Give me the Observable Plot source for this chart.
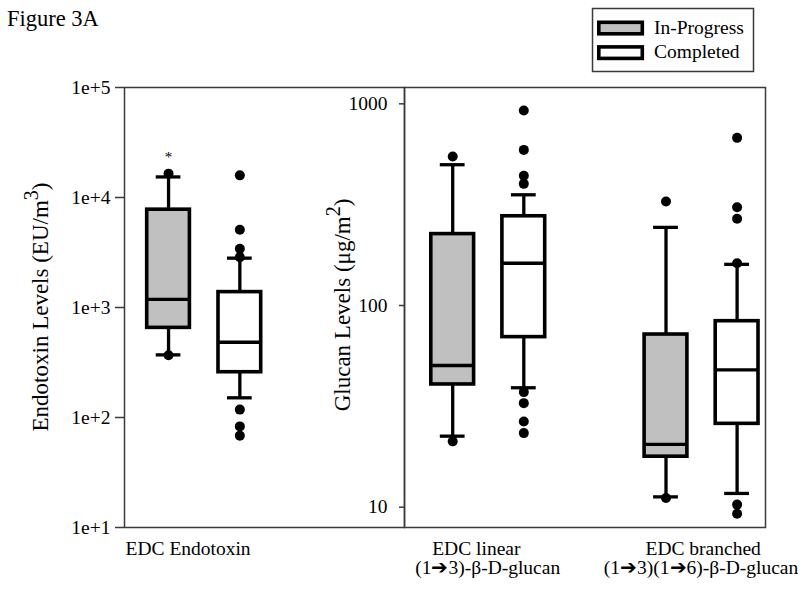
<!DOCTYPE html>
<html>
<head>
<meta charset="utf-8">
<script src="https://cdn.jsdelivr.net/npm/d3@7"></script>
<script src="https://cdn.jsdelivr.net/npm/@observablehq/plot@0.6"></script>
<style>
  body { margin: 0; background: #fff; }
  #wrap { position: relative; width: 800px; height: 590px; overflow: hidden; background: #fff;
          font-family: "Liberation Serif", "Times New Roman", serif; color: #000; }
  #wrap > svg { position: absolute; left: 0; top: 0; }
</style>
</head>
<body>
<div id="wrap"></div>
<script>
// ---------- data ----------
const status = ["In-Progress", "Completed"];
const statusFill = ["#c0c0c0", "#ffffff"];

// EDC Endotoxin (EU/m3)
const endoLow = [371, 151];
const endoQ1 = [653, 258];
const endoMedian = [1183, 483];
const endoQ3 = [7750, 1380];
const endoHigh = [15380, 2810];
const endoOutInProgress = [16480, 368];
const endoOutCompleted = [15900, 5090, 3420, 2870, 118, 83, 68.4];
const endoSignificant = ["In-Progress"];

// EDC linear (1->3)-beta-D-glucan (ug/m2)
const linLow = [22.5, 39.1];
const linQ1 = [40.6, 69.7];
const linMedian = [50.4, 162];
const linQ3 = [226, 277];
const linHigh = [499, 354];
const linOutInProgress = [548, 21.2];
const linOutCompleted = [927, 591, 440, 401, 37.2, 32.8, 26.6, 23.3];

// EDC branched (1->3)(1->6)-beta-D-glucan (ug/m2)
const brLow = [11.25, 11.7];
const brQ1 = [17.8, 25.9];
const brMedian = [20.5, 48.0];
const brQ3 = [71.8, 83.6];
const brHigh = [244, 160];
const brOutInProgress = [328, 11.1];
const brOutCompleted = [678, 307, 269, 162, 10.3, 9.27];

const groups = ["linear", "branched"];
const groupLine1 = ["EDC linear", "EDC branched"];
const groupLine2 = ["(1\u27943)-\u03B2-D-glucan", "(1\u27943)(1\u27946)-\u03B2-D-glucan"];
const endoLabel = ["EDC Endotoxin"];

const endoTicks = [10, 100, 1000, 10000, 100000];
const endoTickLabels = ["1e+1", "1e+2", "1e+3", "1e+4", "1e+5"];
const glucanTicks = [10, 100, 1000];
const glucanTickLabels = ["10", "100", "1000"];

// ---------- tables ----------
function boxRows(prefix, low, q1, med, q3, high) {
  return status.map((s, i) => ({key: prefix + s, low: low[i], q1: q1[i], med: med[i], q3: q3[i], high: high[i], fill: statusFill[i]}));
}
function dotRows(prefix, ip, c) {
  return [...ip.map(v => ({key: prefix + status[0], v})), ...c.map(v => ({key: prefix + status[1], v}))];
}
const endoBoxes = boxRows("", endoLow, endoQ1, endoMedian, endoQ3, endoHigh);
const endoDots = dotRows("", endoOutInProgress, endoOutCompleted);
const endoSig = endoBoxes.filter(d => endoSignificant.includes(d.key)).map(d => ({key: d.key, v: Math.max(d.high, ...endoDots.filter(e => e.key === d.key).map(e => e.v))}));

const glucanBoxes = [
  ...boxRows("linear|", linLow, linQ1, linMedian, linQ3, linHigh),
  ...boxRows("branched|", brLow, brQ1, brMedian, brQ3, brHigh)
];
const glucanDots = [
  ...dotRows("linear|", linOutInProgress, linOutCompleted),
  ...dotRows("branched|", brOutInProgress, brOutCompleted)
];
const glucanDomain = ["linear|In-Progress", "linear|Completed", "gap", "branched|In-Progress", "branched|Completed"];
const groupLabels = groups.map((g, i) => ({key: g + "|" + status[0], line1: groupLine1[i], line2: groupLine2[i]}));

const font = "'Liberation Serif', 'Times New Roman', serif";
const lw = 3.3;

function boxMarks(boxes, dots) {
  return [
    Plot.ruleX(boxes, {x: "key", y1: "low", y2: "high", stroke: "black", strokeWidth: lw}),
    Plot.barY(boxes, {x: "key", y1: "q1", y2: "q3", fill: "fill", stroke: "black", strokeWidth: 3.6}),
    Plot.tickY(boxes, {x: "key", y: "med", stroke: "black", strokeWidth: lw}),
    Plot.tickY(boxes, {x: "key", y: "high", stroke: "black", strokeWidth: lw, insetLeft: 9, insetRight: 9}),
    Plot.tickY(boxes, {x: "key", y: "low", stroke: "black", strokeWidth: lw, insetLeft: 9, insetRight: 9}),
    Plot.dot(dots, {x: "key", y: "v", r: 5, fill: "black", stroke: null})
  ];
}

const wrap = document.getElementById("wrap");

// ---------- left panel ----------
const p1 = Plot.plot({
  width: 405, height: 590,
  marginLeft: 124, marginRight: 1, marginTop: 87, marginBottom: 63,
  style: {background: "none", fontFamily: font, fontSize: "19px", color: "black", overflow: "visible"},
  x: {type: "band", domain: status, range: [146.7, 260.7], paddingInner: 0.401, paddingOuter: 0, round: false, axis: null},
  y: {type: "log", domain: [10, 100000]},
  color: {type: "identity"},
  marks: [
    Plot.frame({stroke: "#3a3a3a", strokeWidth: 1.5}),
    Plot.axisY({ticks: endoTicks, tickFormat: d => endoTickLabels[endoTicks.indexOf(d)], tickSize: 9, tickPadding: 5, label: null, stroke: "#3a3a3a", strokeWidth: 1.5, fontSize: 19.5}),
    ...boxMarks(endoBoxes, endoDots),
    Plot.text(endoSig, {x: "key", y: "v", text: () => "*", dy: -12, lineAnchor: "bottom", fontSize: 15}),
    Plot.text(endoLabel, {frameAnchor: "bottom-left", textAnchor: "start", lineAnchor: "bottom", dx: 1, dy: 27, fontSize: 19.5})
  ]
});
wrap.appendChild(p1);

// ---------- right panel ----------
const p2 = Plot.plot({
  width: 800, height: 590,
  marginLeft: 404, marginRight: 35, marginTop: 87, marginBottom: 63,
  style: {background: "none", fontFamily: font, fontSize: "19px", color: "black", overflow: "visible"},
  x: {type: "band", domain: glucanDomain, range: [430.8, 758], paddingInner: 0.398, paddingOuter: 0, round: false, axis: null},
  y: {type: "log", domain: [7.93, 1205]},
  color: {type: "identity"},
  marks: [
    Plot.frame({stroke: "#3a3a3a", strokeWidth: 1.5}),
    Plot.axisY({ticks: glucanTicks, tickFormat: d => glucanTickLabels[glucanTicks.indexOf(d)], tickSize: 5, tickPadding: 12, label: null, stroke: "#3a3a3a", strokeWidth: 1.5, fontSize: 19.5}),
    ...boxMarks(glucanBoxes, glucanDots),
    Plot.text(groupLabels, {x: "key", text: "line1", frameAnchor: "bottom", textAnchor: "start", lineAnchor: "bottom", dx: -20.5, dy: 27, fontSize: 19.5}),
    Plot.text(groupLabels, {x: "key", text: "line2", frameAnchor: "bottom", textAnchor: "middle", lineAnchor: "bottom", dx: 35, dy: 46, fontSize: 19.5})
  ]
});
wrap.appendChild(p2);

// ---------- title, legend, axis titles ----------
const ov = d3.select(wrap).append("svg")
  .attr("width", 800).attr("height", 590)
  .style("font-family", font).style("pointer-events", "none");

ov.append("text").attr("x", 7).attr("y", 26).attr("font-size", 22.5).text("Figure 3A");

ov.append("rect").attr("x", 592.5).attr("y", 8.5).attr("width", 161).attr("height", 63)
  .attr("fill", "white").attr("stroke", "#3a3a3a").attr("stroke-width", 1.5);
status.forEach((s, i) => {
  ov.append("rect").attr("x", 598.8).attr("y", 22.3 + i * 24.6).attr("width", 43.5).attr("height", 11.5)
    .attr("fill", statusFill[i]).attr("stroke", "black").attr("stroke-width", 3.6);
  ov.append("text").attr("x", 654).attr("y", 34 + i * 24).attr("font-size", 19.5).text(s);
});

const t1 = ov.append("text").attr("transform", "translate(48,307) rotate(-90)")
  .attr("text-anchor", "middle").attr("font-size", 23);
t1.append("tspan").text("Endotoxin Levels (EU/m");
t1.append("tspan").attr("dy", -10).attr("font-size", 20).text("3");
t1.append("tspan").attr("dy", 10).text(")");

const t2 = ov.append("text").attr("transform", "translate(350,305) rotate(-90)")
  .attr("text-anchor", "middle").attr("font-size", 23);
t2.append("tspan").text("Glucan Levels (\u03BCg/m");
t2.append("tspan").attr("dy", -10).attr("font-size", 20).text("2");
t2.append("tspan").attr("dy", 10).text(")");
</script>
</body>
</html>
